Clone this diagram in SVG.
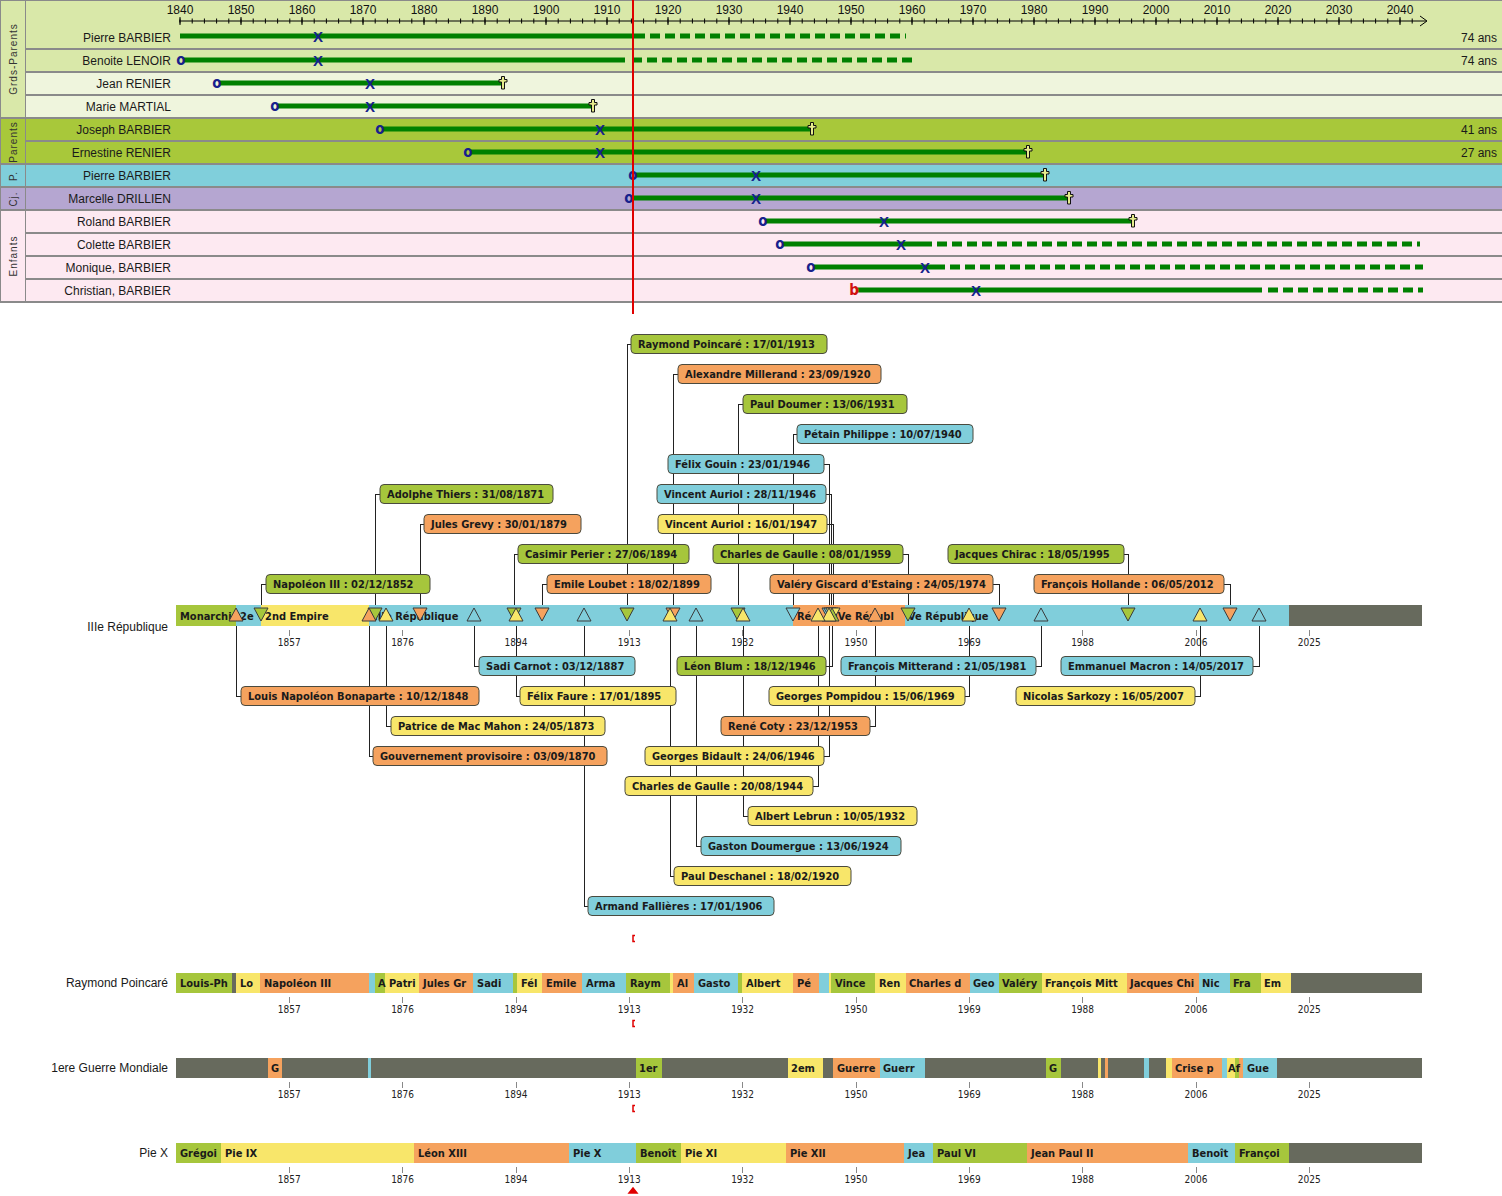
<svg xmlns="http://www.w3.org/2000/svg" xmlns:xlink="http://www.w3.org/1999/xlink" width="1502" height="1196" viewBox="0 0 1502 1196">
<style>
.nm{font:12px "Liberation Sans",Arial,sans-serif;fill:#1a1a1a;text-anchor:end}
.yr{font:12px "Liberation Sans",Arial,sans-serif;fill:#111;text-anchor:middle}
.grp{font:10px "Liberation Sans",Arial,sans-serif;fill:#333;letter-spacing:1px;text-anchor:middle;dominant-baseline:central}
.life{stroke:#008000;stroke-width:5;fill:none}
.dash{stroke-dasharray:10 5}
.mo{font:bold 15px "DejaVu Sans Condensed","DejaVu Sans",sans-serif;fill:#16218c;text-anchor:middle}
.mx{font:bold 15px "Liberation Sans",Arial,sans-serif;fill:#16218c;text-anchor:middle}
.sep{stroke:#8a8a8a;stroke-width:2}
.bx{font:bold 11px "DejaVu Sans Condensed","DejaVu Sans",sans-serif;fill:#1a1a1a}
.fg{fill:#a6c63c}.fo{fill:#f5a25e}.fb{fill:#80cedb}.fy{fill:#f8e66a}.fk{fill:#676a5d}
.box{stroke:#4a4a3e;stroke-width:1}
.cn{stroke:#222;stroke-width:1;fill:none;shape-rendering:crispEdges}
.tri{stroke:#3a3a3a;stroke-width:1}
.tk{stroke:#888;stroke-width:1;shape-rendering:crispEdges}
.tl{font:10px "DejaVu Sans Condensed","DejaVu Sans",sans-serif;fill:#222;text-anchor:middle}
.lbl{font:12px "Liberation Sans",Arial,sans-serif;fill:#1a1a1a;text-anchor:end}
</style>
<defs>
<path id="cross" d="M-1.5,-6.5h3v3h2.5v2.5h-2.5v7h-3v-7h-2.5v-2.5h2.5z" fill="#e6ec8c" stroke="#111" stroke-width="1"/>
<polygon id="td" points="-7,608 7,608 0,621"/>
<polygon id="tu" points="0,608 -7,621 7,621"/>
<g id="scale">
<path class="tk" d="M289.3,0v6M402.6,0v6M516,0v6M629.3,0v6M742.6,0v6M856,0v6M969.3,0v6M1082.6,0v6M1196,0v6M1309.3,0v6"/>
<text class="tl" x="289.3" y="16">1857</text><text class="tl" x="402.6" y="16">1876</text><text class="tl" x="516" y="16">1894</text><text class="tl" x="629.3" y="16">1913</text><text class="tl" x="742.6" y="16">1932</text><text class="tl" x="856" y="16">1950</text><text class="tl" x="969.3" y="16">1969</text><text class="tl" x="1082.6" y="16">1988</text><text class="tl" x="1196" y="16">2006</text><text class="tl" x="1309.3" y="16">2025</text>
</g>
</defs>
<rect width="1502" height="1196" fill="#ffffff"/>

<!-- ===== Top family timeline ===== -->
<g id="top-backgrounds">
<rect x="25" y="0" width="1477" height="73" fill="#d9e8a9"/>
<rect x="25" y="73" width="1477" height="46" fill="#eff5dd"/>
<rect x="25" y="119" width="1477" height="46" fill="#a8c83a"/>
<rect x="25" y="165" width="1477" height="23" fill="#80cfdb"/>
<rect x="25" y="188" width="1477" height="23" fill="#b5a6d1"/>
<rect x="25" y="211" width="1477" height="92" fill="#fde9f1"/>
</g>
<g id="groups">
<g id="g-grds"><rect x="0" y="0" width="25" height="119" fill="#d9e8a9"/><text class="grp" transform="translate(13,59) rotate(-90)">Grds-Parents</text></g>
<g id="g-parents"><rect x="0" y="119" width="25" height="46" fill="#a8c83a"/><text class="grp" transform="translate(13,142) rotate(-90)">Parents</text></g>
<g id="g-p"><rect x="0" y="165" width="25" height="23" fill="#80cfdb"/><text class="grp" transform="translate(13,176) rotate(-90)">P.</text></g>
<g id="g-cj"><rect x="0" y="188" width="25" height="23" fill="#b5a6d1"/><text class="grp" transform="translate(13,199) rotate(-90)">Cj.</text></g>
<g id="g-enfants"><rect x="0" y="211" width="25" height="92" fill="#fde9f1"/><text class="grp" transform="translate(13,256) rotate(-90)">Enfants</text></g>
</g>
<g id="separators">
<path class="sep" d="M25,49H1502M25,72H1502M25,95H1502M0,118H1502M25,141H1502M0,164H1502M0,187H1502M0,210H1502M25,233H1502M25,256H1502M25,279H1502M0,302H1502"/>
<path d="M25.5,0V302M0.5,0V302M0,0.5H1502" stroke="#8a8a8a" stroke-width="1"/>
</g>
<g id="axis">
<line x1="179" y1="21" x2="1426" y2="21" stroke="#000" stroke-width="1"/>
<line x1="179.5" y1="21" x2="1416" y2="21" stroke="#000" stroke-width="5" stroke-dasharray="1 11.2"/>
<line x1="179.5" y1="21" x2="1416" y2="21" stroke="#000" stroke-width="8" stroke-dasharray="1 60"/>
<path d="M1420,16L1427,21L1420,26" fill="none" stroke="#000" stroke-width="1"/>
<text class="yr" x="180" y="14">1840</text><text class="yr" x="241" y="14">1850</text><text class="yr" x="302" y="14">1860</text><text class="yr" x="363" y="14">1870</text><text class="yr" x="424" y="14">1880</text><text class="yr" x="485" y="14">1890</text><text class="yr" x="546" y="14">1900</text><text class="yr" x="607" y="14">1910</text><text class="yr" x="668" y="14">1920</text><text class="yr" x="729" y="14">1930</text><text class="yr" x="790" y="14">1940</text><text class="yr" x="851" y="14">1950</text><text class="yr" x="912" y="14">1960</text><text class="yr" x="973" y="14">1970</text><text class="yr" x="1034" y="14">1980</text><text class="yr" x="1095" y="14">1990</text><text class="yr" x="1156" y="14">2000</text><text class="yr" x="1217" y="14">2010</text><text class="yr" x="1278" y="14">2020</text><text class="yr" x="1339" y="14">2030</text><text class="yr" x="1400" y="14">2040</text>
</g>

<g id="r1"><text class="nm" x="171" y="42">Pierre BARBIER</text>
<path class="life" d="M180,36H645"/><path class="life dash" d="M650,36H906"/>
<text class="mx" x="318" y="42">X</text><text class="nm" x="1497" y="42">74 ans</text></g>
<g id="r2"><text class="nm" x="171" y="65">Benoite LENOIR</text>
<path class="life" d="M183,60H625"/><path class="life dash" d="M632,60H912"/>
<text class="mo" x="181" y="65">o</text><text class="mx" x="318" y="66">X</text><text class="nm" x="1497" y="65">74 ans</text></g>
<g id="r3"><text class="nm" x="171" y="88">Jean RENIER</text>
<path class="life" d="M220,83H503"/><text class="mo" x="217" y="88">o</text><use xlink:href="#cross" x="503" y="83"/>
<text class="mx" x="370" y="89">X</text></g>
<g id="r4"><text class="nm" x="171" y="111">Marie MARTIAL</text>
<path class="life" d="M278,106H593"/><text class="mo" x="275" y="111">o</text><use xlink:href="#cross" x="593" y="106"/>
<text class="mx" x="370" y="112">X</text></g>
<g id="r5"><text class="nm" x="171" y="134">Joseph BARBIER</text>
<path class="life" d="M383,129H812"/><text class="mo" x="380" y="134">o</text><use xlink:href="#cross" x="812" y="129"/>
<text class="mx" x="600" y="135">X</text><text class="nm" x="1497" y="134">41 ans</text></g>
<g id="r6"><text class="nm" x="171" y="157">Ernestine RENIER</text>
<path class="life" d="M471,152H1028"/><text class="mo" x="468" y="157">o</text><use xlink:href="#cross" x="1028" y="152"/>
<text class="mx" x="600" y="158">X</text><text class="nm" x="1497" y="157">27 ans</text></g>
<g id="r7"><text class="nm" x="171" y="180">Pierre BARBIER</text>
<path class="life" d="M636,175H1045"/><text class="mo" x="633" y="180">o</text><use xlink:href="#cross" x="1045" y="175"/>
<text class="mx" x="756" y="181">X</text></g>
<g id="r8"><text class="nm" x="171" y="203">Marcelle DRILLIEN</text>
<path class="life" d="M632,198H1069"/><text class="mo" x="629" y="203">o</text><use xlink:href="#cross" x="1069" y="198"/>
<text class="mx" x="756" y="204">X</text></g>
<g id="r9"><text class="nm" x="171" y="226">Roland BARBIER</text>
<path class="life" d="M766,221H1133"/><text class="mo" x="763" y="226">o</text><use xlink:href="#cross" x="1133" y="221"/>
<text class="mx" x="884" y="227">X</text></g>
<g id="r10"><text class="nm" x="171" y="249">Colette BARBIER</text>
<path class="life" d="M783,244H932"/><path class="life dash" d="M937,244H1420"/><text class="mo" x="780" y="249">o</text>
<text class="mx" x="901" y="250">X</text></g>
<g id="r11"><text class="nm" x="171" y="272">Monique, BARBIER</text>
<path class="life" d="M814,267H945"/><path class="life dash" d="M950,267H1423"/><text class="mo" x="811" y="272">o</text>
<text class="mx" x="925" y="273">X</text></g>
<g id="r12"><text class="nm" x="171" y="295">Christian, BARBIER</text>
<path class="life" d="M857,290H1262"/><path class="life dash" d="M1268,290H1423"/><text class="mo" x="854" y="295" style="fill:#d01010">b</text>
<text class="mx" x="976" y="296">X</text></g>
<line id="today" x1="633" y1="0" x2="633" y2="314" stroke="#e00000" stroke-width="2"/>

<!-- ===== Middle: IIIe République ===== -->
<g id="band-main">
<text class="lbl" x="168" y="631">IIIe République</text>
<rect class="fg" x="176" y="605" width="60" height="21"/>
<rect class="fb" x="236" y="605" width="25" height="21"/>
<rect class="fy" x="261" y="605" width="108" height="21"/>
<rect class="fb" x="369" y="605" width="424" height="21"/>
<rect class="fo" x="793" y="605" width="112" height="21"/>
<rect class="fb" x="905" y="605" width="384" height="21"/>
<rect class="fk" x="1289" y="605" width="133" height="21"/>
<text class="bx" x="180" y="619.5">Monarchi</text>
<text class="bx" x="240" y="619.5">2e</text>
<text class="bx" x="265" y="619.5">2nd Empire</text>
<text class="bx" x="374" y="619.5">IIIe République</text>
<text class="bx" x="797" y="619.5">Ré</text>
<text class="bx" x="834" y="619.5">IVe Républ</text>
<text class="bx" x="908" y="619.5">Ve République</text>
<use xlink:href="#scale" transform="translate(0,630)"/>
</g>

<g id="connectors">
<path class="cn" d="M627,605V344H631M673,605V374H678M738,605V404H743M793,605V434H797M829,605V464H824M831,605V494H826M833,605V524H827M514,605V554H518M908,605V554H903M1128,605V554H1124M375,605V494H380M420,605V524H424M261,605V584H266M542,605V584H547M999,605V584H993M1230,605V584H1224"/>
<path class="cn" d="M474,626V666H479M832,626V666H826M1041,626V666H1036M1259,626V666H1253M236,626V696H241M516,626V696H520M969,626V696H965M1200,626V696H1195M386,626V726H391M875,626V726H870M369,626V756H373M829,626V756H824M818,626V786H813M743,626V816H748M696,626V846H701M670,626V876H674M584,626V906H588"/>
</g>

<g id="markers">
<use xlink:href="#td" x="627" class="fg tri"/><use xlink:href="#td" x="673" class="fo tri"/><use xlink:href="#td" x="738" class="fg tri"/><use xlink:href="#td" x="793" class="fb tri"/><use xlink:href="#td" x="829" class="fb tri"/><use xlink:href="#td" x="831" class="fb tri"/><use xlink:href="#td" x="833" class="fy tri"/><use xlink:href="#td" x="514" class="fg tri"/><use xlink:href="#td" x="908" class="fg tri"/><use xlink:href="#td" x="1128" class="fg tri"/><use xlink:href="#td" x="375" class="fg tri"/><use xlink:href="#td" x="420" class="fo tri"/><use xlink:href="#td" x="261" class="fg tri"/><use xlink:href="#td" x="542" class="fo tri"/><use xlink:href="#td" x="999" class="fo tri"/><use xlink:href="#td" x="1230" class="fo tri"/>
<use xlink:href="#tu" x="474" class="fb tri"/><use xlink:href="#tu" x="832" class="fg tri"/><use xlink:href="#tu" x="1041" class="fb tri"/><use xlink:href="#tu" x="1259" class="fb tri"/><use xlink:href="#tu" x="236" class="fo tri"/><use xlink:href="#tu" x="516" class="fy tri"/><use xlink:href="#tu" x="969" class="fy tri"/><use xlink:href="#tu" x="1200" class="fy tri"/><use xlink:href="#tu" x="386" class="fy tri"/><use xlink:href="#tu" x="875" class="fo tri"/><use xlink:href="#tu" x="369" class="fo tri"/><use xlink:href="#tu" x="829" class="fy tri"/><use xlink:href="#tu" x="818" class="fy tri"/><use xlink:href="#tu" x="743" class="fy tri"/><use xlink:href="#tu" x="696" class="fb tri"/><use xlink:href="#tu" x="670" class="fy tri"/><use xlink:href="#tu" x="584" class="fb tri"/>
</g>

<g id="events">
<g id="e1"><rect class="box fg" x="631" y="334.5" width="196" height="19" rx="4"/><text class="bx" x="638" y="348">Raymond Poincaré : 17/01/1913</text></g>
<g id="e2"><rect class="box fo" x="678" y="364.5" width="203" height="19" rx="4"/><text class="bx" x="685" y="378">Alexandre Millerand : 23/09/1920</text></g>
<g id="e3"><rect class="box fg" x="743" y="394.5" width="164" height="19" rx="4"/><text class="bx" x="750" y="408">Paul Doumer : 13/06/1931</text></g>
<g id="e4"><rect class="box fb" x="797" y="424.5" width="176" height="19" rx="4"/><text class="bx" x="804" y="438">Pétain Philippe : 10/07/1940</text></g>
<g id="e5"><rect class="box fb" x="668" y="454.5" width="156" height="19" rx="4"/><text class="bx" x="675" y="468">Félix Gouin : 23/01/1946</text></g>
<g id="e6"><rect class="box fb" x="657" y="484.5" width="169" height="19" rx="4"/><text class="bx" x="664" y="498">Vincent Auriol : 28/11/1946</text></g>
<g id="e7"><rect class="box fy" x="658" y="514.5" width="169" height="19" rx="4"/><text class="bx" x="665" y="528">Vincent Auriol : 16/01/1947</text></g>
<g id="e8"><rect class="box fg" x="518" y="544.5" width="171" height="19" rx="4"/><text class="bx" x="525" y="558">Casimir Perier : 27/06/1894</text></g>
<g id="e9"><rect class="box fg" x="713" y="544.5" width="190" height="19" rx="4"/><text class="bx" x="720" y="558">Charles de Gaulle : 08/01/1959</text></g>
<g id="e10"><rect class="box fg" x="948" y="544.5" width="176" height="19" rx="4"/><text class="bx" x="955" y="558">Jacques Chirac : 18/05/1995</text></g>
<g id="e11"><rect class="box fg" x="380" y="484.5" width="173" height="19" rx="4"/><text class="bx" x="387" y="498">Adolphe Thiers : 31/08/1871</text></g>
<g id="e12"><rect class="box fo" x="424" y="514.5" width="157" height="19" rx="4"/><text class="bx" x="431" y="528">Jules Grevy : 30/01/1879</text></g>
<g id="e13"><rect class="box fg" x="266" y="574.5" width="164" height="19" rx="4"/><text class="bx" x="273" y="588">Napoléon III : 02/12/1852</text></g>
<g id="e14"><rect class="box fo" x="547" y="574.5" width="164" height="19" rx="4"/><text class="bx" x="554" y="588">Emile Loubet : 18/02/1899</text></g>
<g id="e15"><rect class="box fo" x="770" y="574.5" width="223" height="19" rx="4"/><text class="bx" x="777" y="588">Valéry Giscard d'Estaing : 24/05/1974</text></g>
<g id="e16"><rect class="box fo" x="1034" y="574.5" width="190" height="19" rx="4"/><text class="bx" x="1041" y="588">François Hollande : 06/05/2012</text></g>
<g id="e17"><rect class="box fb" x="479" y="656.5" width="156" height="19" rx="4"/><text class="bx" x="486" y="670">Sadi Carnot : 03/12/1887</text></g>
<g id="e18"><rect class="box fg" x="677" y="656.5" width="149" height="19" rx="4"/><text class="bx" x="684" y="670">Léon Blum : 18/12/1946</text></g>
<g id="e19"><rect class="box fb" x="841" y="656.5" width="195" height="19" rx="4"/><text class="bx" x="848" y="670">François Mitterand : 21/05/1981</text></g>
<g id="e20"><rect class="box fb" x="1061" y="656.5" width="192" height="19" rx="4"/><text class="bx" x="1068" y="670">Emmanuel Macron : 14/05/2017</text></g>
<g id="e21"><rect class="box fo" x="241" y="686.5" width="238" height="19" rx="4"/><text class="bx" x="248" y="700">Louis Napoléon Bonaparte : 10/12/1848</text></g>
<g id="e22"><rect class="box fy" x="520" y="686.5" width="156" height="19" rx="4"/><text class="bx" x="527" y="700">Félix Faure : 17/01/1895</text></g>
<g id="e23"><rect class="box fy" x="769" y="686.5" width="196" height="19" rx="4"/><text class="bx" x="776" y="700">Georges Pompidou : 15/06/1969</text></g>
<g id="e24"><rect class="box fy" x="1016" y="686.5" width="179" height="19" rx="4"/><text class="bx" x="1023" y="700">Nicolas Sarkozy : 16/05/2007</text></g>
<g id="e25"><rect class="box fy" x="391" y="716.5" width="214" height="19" rx="4"/><text class="bx" x="398" y="730">Patrice de Mac Mahon : 24/05/1873</text></g>
<g id="e26"><rect class="box fo" x="721" y="716.5" width="149" height="19" rx="4"/><text class="bx" x="728" y="730">René Coty : 23/12/1953</text></g>
<g id="e27"><rect class="box fo" x="373" y="746.5" width="234" height="19" rx="4"/><text class="bx" x="380" y="760">Gouvernement provisoire : 03/09/1870</text></g>
<g id="e28"><rect class="box fy" x="645" y="746.5" width="179" height="19" rx="4"/><text class="bx" x="652" y="760">Georges Bidault : 24/06/1946</text></g>
<g id="e29"><rect class="box fy" x="625" y="776.5" width="188" height="19" rx="4"/><text class="bx" x="632" y="790">Charles de Gaulle : 20/08/1944</text></g>
<g id="e30"><rect class="box fy" x="748" y="806.5" width="169" height="19" rx="4"/><text class="bx" x="755" y="820">Albert Lebrun : 10/05/1932</text></g>
<g id="e31"><rect class="box fb" x="701" y="836.5" width="200" height="19" rx="4"/><text class="bx" x="708" y="850">Gaston Doumergue : 13/06/1924</text></g>
<g id="e32"><rect class="box fy" x="674" y="866.5" width="177" height="19" rx="4"/><text class="bx" x="681" y="880">Paul Deschanel : 18/02/1920</text></g>
<g id="e33"><rect class="box fb" x="588" y="896.5" width="186" height="19" rx="4"/><text class="bx" x="595" y="910">Armand Fallières : 17/01/1906</text></g>
</g>

<g id="today-marks" fill="none" stroke="#e00000" stroke-width="1.5">
<path d="M635,935.5h-2v6h2"/>
<path d="M635,1020.5h-2v6h2"/>
<path d="M635,1105.5h-2v6h2"/>
<path d="M633,1188l-4,5h8z" fill="#e00000"/>
</g>

<!-- ===== Bar: Raymond Poincaré ===== -->
<g id="bar-poincare">
<text class="lbl" x="168" y="987">Raymond Poincaré</text>
<rect class="fk" x="176" y="973" width="1246" height="20"/>
<rect class="fg" x="176" y="973" width="56" height="20"/>
<rect class="fy" x="236" y="973" width="24" height="20"/>
<rect class="fo" x="260" y="973" width="109" height="20"/>
<rect class="fb" x="369" y="973" width="6" height="20"/>
<rect class="fg" x="375" y="973" width="10" height="20"/>
<rect class="fy" x="385" y="973" width="34" height="20"/>
<rect class="fo" x="419" y="973" width="54" height="20"/>
<rect class="fb" x="473" y="973" width="40" height="20"/>
<rect class="fg" x="513" y="973" width="4" height="20"/>
<rect class="fy" x="517" y="973" width="25" height="20"/>
<rect class="fo" x="542" y="973" width="40" height="20"/>
<rect class="fb" x="582" y="973" width="44" height="20"/>
<rect class="fg" x="626" y="973" width="44" height="20"/>
<rect class="fy" x="670" y="973" width="3" height="20"/>
<rect class="fo" x="673" y="973" width="21" height="20"/>
<rect class="fb" x="694" y="973" width="44" height="20"/>
<rect class="fg" x="738" y="973" width="4" height="20"/>
<rect class="fy" x="742" y="973" width="51" height="20"/>
<rect class="fo" x="793" y="973" width="26" height="20"/>
<rect class="fb" x="819" y="973" width="10" height="20"/>
<rect class="fy" x="829" y="973" width="2" height="20"/>
<rect class="fg" x="831" y="973" width="44" height="20"/>
<rect class="fy" x="875" y="973" width="31" height="20"/>
<rect class="fo" x="906" y="973" width="64" height="20"/>
<rect class="fb" x="970" y="973" width="29" height="20"/>
<rect class="fg" x="999" y="973" width="43" height="20"/>
<rect class="fy" x="1042" y="973" width="85" height="20"/>
<rect class="fo" x="1127" y="973" width="72" height="20"/>
<rect class="fb" x="1199" y="973" width="31" height="20"/>
<rect class="fg" x="1230" y="973" width="31" height="20"/>
<rect class="fy" x="1261" y="973" width="30" height="20"/>
<text class="bx" x="180" y="987">Louis-Ph</text><text class="bx" x="240" y="987">Lo</text><text class="bx" x="264" y="987">Napoléon III</text><text class="bx" x="378" y="987">A</text><text class="bx" x="389" y="987">Patri</text><text class="bx" x="423" y="987">Jules Gr</text><text class="bx" x="477" y="987">Sadi</text><text class="bx" x="521" y="987">Fél</text><text class="bx" x="546" y="987">Emile</text><text class="bx" x="586" y="987">Arma</text><text class="bx" x="630" y="987">Raym</text><text class="bx" x="677" y="987">Al</text><text class="bx" x="698" y="987">Gasto</text><text class="bx" x="746" y="987">Albert</text><text class="bx" x="797" y="987">Pé</text><text class="bx" x="835" y="987">Vince</text><text class="bx" x="879" y="987">Ren</text><text class="bx" x="909" y="987">Charles d</text><text class="bx" x="973" y="987">Geo</text><text class="bx" x="1002" y="987">Valéry</text><text class="bx" x="1045" y="987">François Mitt</text><text class="bx" x="1130" y="987">Jacques Chi</text><text class="bx" x="1202" y="987">Nic</text><text class="bx" x="1233" y="987">Fra</text><text class="bx" x="1264" y="987">Em</text>
<use xlink:href="#scale" transform="translate(0,997)"/>
</g>

<!-- ===== Bar: 1ere Guerre Mondiale ===== -->
<g id="bar-guerre">
<text class="lbl" x="168" y="1072">1ere Guerre Mondiale</text>
<rect class="fk" x="176" y="1058" width="1246" height="20"/>
<rect class="fo" x="268" y="1058" width="14" height="20"/>
<rect class="fb" x="368" y="1058" width="3" height="20"/>
<rect class="fg" x="636" y="1058" width="26" height="20"/>
<rect class="fy" x="788" y="1058" width="35" height="20"/>
<rect class="fo" x="833" y="1058" width="47" height="20"/>
<rect class="fb" x="880" y="1058" width="45" height="20"/>
<rect class="fg" x="1046" y="1058" width="15" height="20"/>
<rect class="fy" x="1098" y="1058" width="3" height="20"/>
<rect class="fo" x="1105" y="1058" width="3" height="20"/>
<rect class="fb" x="1144" y="1058" width="5" height="20"/>
<rect class="fy" x="1166" y="1058" width="6" height="20"/>
<rect class="fo" x="1172" y="1058" width="50" height="20"/>
<rect class="fb" x="1222" y="1058" width="5" height="20"/>
<rect class="fy" x="1227" y="1058" width="8" height="20"/>
<rect class="fg" x="1235" y="1058" width="4" height="20"/>
<rect class="fo" x="1239" y="1058" width="4" height="20"/>
<rect class="fb" x="1243" y="1058" width="34" height="20"/>
<text class="bx" x="271" y="1072">G</text><text class="bx" x="639" y="1072">1er</text><text class="bx" x="791" y="1072">2em</text><text class="bx" x="837" y="1072">Guerre</text><text class="bx" x="883" y="1072">Guerr</text><text class="bx" x="1049" y="1072">G</text><text class="bx" x="1175" y="1072">Crise p</text><text class="bx" x="1228" y="1072">Af</text><text class="bx" x="1247" y="1072">Gue</text>
<use xlink:href="#scale" transform="translate(0,1082)"/>
</g>

<!-- ===== Bar: Pie X ===== -->
<g id="bar-pie">
<text class="lbl" x="168" y="1157">Pie X</text>
<rect class="fk" x="176" y="1143" width="1246" height="20"/>
<rect class="fg" x="176" y="1143" width="45" height="20"/>
<rect class="fy" x="221" y="1143" width="193" height="20"/>
<rect class="fo" x="414" y="1143" width="155" height="20"/>
<rect class="fb" x="569" y="1143" width="67" height="20"/>
<rect class="fg" x="636" y="1143" width="45" height="20"/>
<rect class="fy" x="681" y="1143" width="105" height="20"/>
<rect class="fo" x="786" y="1143" width="118" height="20"/>
<rect class="fb" x="904" y="1143" width="29" height="20"/>
<rect class="fg" x="933" y="1143" width="94" height="20"/>
<rect class="fo" x="1027" y="1143" width="161" height="20"/>
<rect class="fb" x="1188" y="1143" width="47" height="20"/>
<rect class="fg" x="1235" y="1143" width="54" height="20"/>
<text class="bx" x="180" y="1157">Grégoi</text><text class="bx" x="225" y="1157">Pie IX</text><text class="bx" x="418" y="1157">Léon XIII</text><text class="bx" x="573" y="1157">Pie X</text><text class="bx" x="640" y="1157">Benoît</text><text class="bx" x="685" y="1157">Pie XI</text><text class="bx" x="790" y="1157">Pie XII</text><text class="bx" x="908" y="1157">Jea</text><text class="bx" x="937" y="1157">Paul VI</text><text class="bx" x="1031" y="1157">Jean Paul II</text><text class="bx" x="1192" y="1157">Benoît</text><text class="bx" x="1239" y="1157">Françoi</text>
<use xlink:href="#scale" transform="translate(0,1167)"/>
</g>
</svg>
